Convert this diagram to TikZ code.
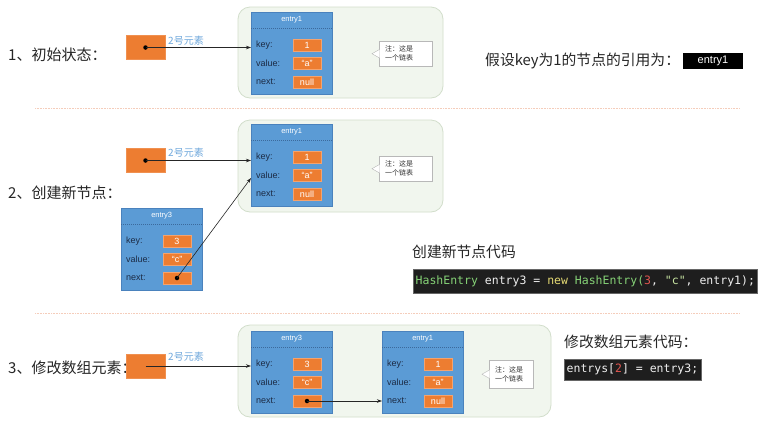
\documentclass[tikz,border=0pt]{standalone}
\usepackage{fontspec}
\setmainfont{Noto Sans CJK SC}
\newfontfamily\latinf{Liberation Sans}
\newfontfamily\codef{DejaVu Sans Mono}
\usetikzlibrary{arrows.meta,calc}
\definecolor{eblue}{HTML}{5B9BD5}
\definecolor{eblueline}{HTML}{4A82BD}
\definecolor{hdrline}{HTML}{3C6A9C}
\definecolor{eorange}{HTML}{ED7D31}
\definecolor{eorangeline}{HTML}{F4A36E}
\definecolor{regfill}{HTML}{F1F6EE}
\definecolor{regline}{HTML}{D2DECB}
\definecolor{lbl}{HTML}{1C2B45}
\definecolor{tagblue}{HTML}{6FA8DC}
\definecolor{sepcol}{HTML}{F5CDBB}
\definecolor{codebg}{HTML}{1E1E1E}
\definecolor{cgreen}{HTML}{86D377}
\definecolor{cyellow}{HTML}{E6DB74}
\definecolor{cred}{HTML}{E0554F}
\definecolor{cstr}{HTML}{C9E6A3}
\definecolor{cwhite}{HTML}{F0F0F0}
\definecolor{notetext}{HTML}{333333}
\definecolor{noteline}{HTML}{B8B8B8}
\tikzset{
  region/.style={draw=regline, fill=regfill, rounded corners=12pt, line width=0.8pt},
  entrybox/.style={draw=eblueline, fill=eblue, minimum width=81pt, minimum height=82pt, inner sep=0pt, anchor=north west},
  hdr/.style={draw=hdrline, line width=0.5pt, dash pattern=on 1pt off 1pt},
  field/.style={draw=eorangeline, fill=eorange, minimum width=28pt, minimum height=12pt, inner sep=0pt, text=white, font=\latinf\fontsize{9}{10}\selectfont},
  rowlabel/.style={anchor=west, text=lbl, font=\latinf\fontsize{9}{10}\selectfont, inner sep=0pt},
  etitle/.style={text=white, font=\latinf\fontsize{7.5}{8.5}\selectfont, inner sep=0pt},
  arrbox/.style={draw=eorange!85!white, fill=eorange, minimum width=39pt, minimum height=24pt, inner sep=0pt},
  dotp/.style={circle, fill=black, inner sep=0pt, minimum size=4.5pt},
  link/.style={-{Stealth[length=5pt,width=3.5pt]}, line width=0.6pt, draw=black!85},
  tag/.style={text=tagblue, font=\fontsize{10}{11}\selectfont, anchor=west, inner sep=0pt},
  steplabel/.style={anchor=west, font=\fontsize{15}{17}\selectfont, text=black!85, inner sep=0pt},
  caption/.style={anchor=west, font=\fontsize{14.8}{17}\selectfont, text=black!85, inner sep=0pt},
  notebox/.style={draw=noteline, fill=white, align=left, font=\fontsize{7}{9}\selectfont, text=notetext, inner xsep=6pt, inner ysep=0pt, anchor=north west},
  codebox/.style={draw=black!60, fill=codebg, text=cwhite, font=\codef\fontsize{11.5}{13}\selectfont, inner xsep=2.5pt, inner ysep=0pt, anchor=west},
  sepline/.style={draw=sepcol, line width=1pt, dash pattern=on 1pt off 0.6pt}
}
\newcommand{\mkentry}[7]{%
  \node[entrybox] (#1) at (#2,#3) {};
  \draw[hdr] ($(#1.north west)+(0,16)$) -- ($(#1.north east)+(0,16)$);
  \node[etitle] (#1-t) at ($(#1.north)+(0,8)$) {#4};
  \node[rowlabel] (#1-kl) at ($(#1.north west)+(5,33)$) {key:};
  \node[rowlabel] (#1-vl) at ($(#1.north west)+(5,51)$) {value:};
  \node[rowlabel] (#1-nl) at ($(#1.north west)+(5,70)$) {next:};
  \node[field] (#1-k) at ($(#1.north west)+(56,33)$) {#5};
  \node[field] (#1-v) at ($(#1.north west)+(56,51)$) {#6};
  \node[field] (#1-n) at ($(#1.north west)+(56,70)$) {#7};
}
\newcommand{\mknote}[5]{%
  \node[notebox, minimum width=#4pt, minimum height=#5pt, text width=#4pt-12pt] (#1) at (#2,#3) {注：这是\\一个链表};
  \fill[white] ($(#1.west)+(0.6,-4)$) -- ($(#1.west)+(-7,0)$) -- ($(#1.west)+(0.6,4)$) -- cycle;
  \draw[noteline, line width=0.4pt] ($(#1.west)+(0,-4)$) -- ($(#1.west)+(-7,0)$) -- ($(#1.west)+(0,4)$);
}
\begin{document}
\begin{tikzpicture}[x=1pt,y=-1pt]
\useasboundingbox[fill=white] (0,0) rectangle (766,432);

% separators
\draw[sepline] (35,108) -- (740,108);
\draw[sepline] (35,313) -- (740,313);

% ---------- section 1 ----------
\node[steplabel] (s1) at (8,55) {1、初始状态：};
\draw[region] (238,7) rectangle (443,98);
\mkentry{ea}{251}{12}{entry1}{1}{“a”}{null}
\mknote{na}{379}{41}{53}{25}
\node[arrbox] (b1) at (145.5,47.5) {};
\node[dotp] (d1) at (b1.center) {};
\node[tag] (t1) at (168,41) {2号元素};
\draw[link] (d1.center) -- (d1.center -| ea.west);
\node[caption] (c1) at (485,61) {假设key为1的节点的引用为：};
\node[fill=black, text=white, font=\latinf\fontsize{11}{12}\selectfont, minimum width=60pt, minimum height=16pt, inner sep=0pt] (ref1) at (713,61) {entry1};

% ---------- section 2 ----------
\node[steplabel] (s2) at (8,193) {2、创建新节点：};
\draw[region] (238,120) rectangle (443,212);
\mkentry{eb}{251}{124}{entry1}{1}{“a”}{null}
\mknote{nb}{379}{156}{53}{25}
\node[arrbox] (b2) at (145.5,160.5) {};
\node[dotp] (d2) at (b2.center) {};
\node[tag] (t2) at (168,153) {2号元素};
\draw[link] (d2.center) -- (d2.center -| eb.west);
\mkentry{ec}{121}{208}{entry3}{3}{“c”}{}
\node[dotp] (d3) at (ec-n.center) {};
\coordinate (eb-in) at ($(eb.north west)+(0,54)$);
\draw[link] (d3.center) -- (eb-in);
\node[caption] (c2) at (412,252) {创建新节点代码};
\node[codebox, minimum height=24pt] (code1) at (413,281) {{\color{cgreen}HashEntry} entry3 = {\color{cyellow}new} {\color{cgreen}HashEntry(}{\color{cred}3}, {\color{cstr}"c"}, entry1);};

% ---------- section 3 ----------
\node[steplabel] (s3) at (8,368) {3、修改数组元素：};
\draw[region] (238,325) rectangle (551,417);
\mkentry{ed}{251}{331}{entry3}{3}{“c”}{}
\mkentry{ee}{382}{331}{entry1}{1}{“a”}{null}
\mknote{nc}{489}{360}{44}{28}
\node[arrbox] (b3) at (145.5,366) {};
\node[tag] (t3) at (168,357) {2号元素};
\draw[link] (b3.center) -- (b3.center -| ed.west);
\node[dotp] (d4) at (ed-n.center) {};
\draw[link] (d4.center) -- (d4.center -| ee.west);
\node[caption] (c3) at (564,342) {修改数组元素代码：};
\node[codebox, minimum height=21pt] (code2) at (564,369.5) {entrys[{\color{cred}2}] = entry3;};
\end{tikzpicture}
\end{document}
